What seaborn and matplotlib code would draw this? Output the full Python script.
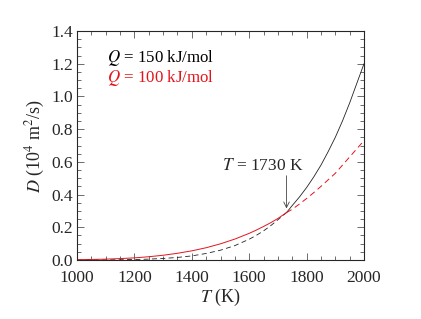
import numpy as np
import pandas as pd
import matplotlib
matplotlib.use("Agg")
import matplotlib.pyplot as plt
import seaborn as sns
from matplotlib.ticker import MultipleLocator

# --- Data ---
T_K = [1000, 1050, 1100, 1150, 1200, 1250, 1300, 1350, 1400, 1450, 1500,
       1550, 1600, 1625, 1650, 1675, 1700, 1730, 1750, 1775, 1800, 1825,
       1850, 1875, 1900, 1925, 1950, 1975, 2000]
D_Q150 = [0.0001, 0.0003, 0.0008, 0.0015, 0.003, 0.0054, 0.0094, 0.0157, 0.025, 0.040, 0.060,
          0.088, 0.127, 0.151, 0.178, 0.21, 0.246, 0.29, 0.333, 0.385, 0.443, 0.508,
          0.58, 0.662, 0.75, 0.85, 0.96, 1.08, 1.2]
D_Q100 = [0.002, 0.0032, 0.0053, 0.0086, 0.013, 0.020, 0.029, 0.041, 0.056, 0.075, 0.099,
          0.128, 0.163, 0.183, 0.205, 0.228, 0.254, 0.29, 0.31, 0.342, 0.376, 0.412,
          0.45, 0.49, 0.53, 0.58, 0.63, 0.68, 0.73]
T_CROSS = 1730
BLACK = "black"
RED = "#e3141c"

df = pd.DataFrame({"T": T_K, "Q150": D_Q150, "Q100": D_Q100})
low = df[df["T"] <= T_CROSS]
high = df[df["T"] >= T_CROSS]

sns.set_style("ticks")
plt.rcParams["font.family"] = ["Liberation Serif", "DejaVu Serif"]
plt.rcParams["mathtext.fontset"] = "stix"

fig = plt.figure(figsize=(4.21, 3.19), dpi=100)
ax = fig.add_axes([77 / 421, 1 - 260 / 319, 287 / 421, 229 / 319])

# solid where each curve is the larger one, dashed elsewhere
sns.lineplot(x=low["T"], y=low["Q150"], ax=ax, color="#222222", lw=0.6,
             linestyle=(0, (6, 4)))
sns.lineplot(x=high["T"], y=high["Q150"], ax=ax, color="#222222", lw=0.6)
sns.lineplot(x=low["T"], y=low["Q100"], ax=ax, color=RED, lw=0.7)
sns.lineplot(x=high["T"], y=high["Q100"], ax=ax, color=RED, lw=0.7,
             linestyle=(0, (6, 4)))

ax.set_xlim(1000, 2000)
ax.set_ylim(0, 1.4)
ax.xaxis.set_major_locator(MultipleLocator(200))
ax.xaxis.set_minor_locator(MultipleLocator(50))
ax.yaxis.set_major_locator(MultipleLocator(0.2))
ax.yaxis.set_minor_locator(MultipleLocator(0.05))
ax.yaxis.set_major_formatter(lambda v, p: f"{v:.1f}")
ax.tick_params(which="both", direction="in", top=True, right=True,
               labelsize=12.5, width=0.6, color="#555555")
ax.tick_params(axis="x", which="major", pad=7)
ax.tick_params(axis="y", which="major", pad=3)
ax.tick_params(which="major", length=5)
ax.tick_params(which="minor", length=3)
for s in ax.spines.values():
    s.set_linewidth(0.8)

ax.set_xlabel("$T$ (K)", fontsize=13, labelpad=1)
ax.set_ylabel("$D$ (10$^4$ m$^2$/s)", fontsize=13, labelpad=3)

ax.text(1105, 1.235, "$Q$ = 150 kJ/mol", fontsize=12.2, color=BLACK, va="center")
ax.text(1105, 1.115, "$Q$ = 100 kJ/mol", fontsize=12.2, color=RED, va="center")

ax.text(1648, 0.575, "$T$ = 1730 K", fontsize=12.5, ha="center", va="center")
ax.annotate("", xy=(T_CROSS, 0.315), xytext=(T_CROSS, 0.515),
            arrowprops=dict(arrowstyle="->", color="#444444", lw=0.6,
                            shrinkA=0, shrinkB=0))

fig.savefig("out.png", dpi=100)
